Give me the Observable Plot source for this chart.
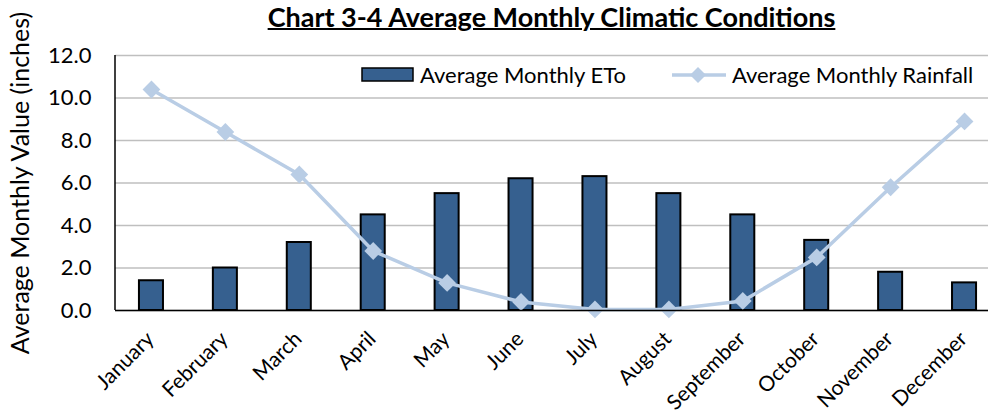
<!DOCTYPE html>
<html><head><meta charset="utf-8">
<script src="https://cdn.jsdelivr.net/npm/d3@7"></script>
<script src="https://cdn.jsdelivr.net/npm/@observablehq/plot@0.6"></script>
<style>
body{margin:0;background:#fff;}
#wrap{position:relative;width:988px;height:413px;overflow:hidden;font-family:Lato,"Open Sans",sans-serif;color:#000;}
#title{position:absolute;left:115px;width:873px;top:0px;line-height:33px;text-align:center;font-weight:bold;font-size:27px;text-decoration:underline;text-decoration-thickness:1.5px;white-space:nowrap;}
#ylabel{position:absolute;left:18.5px;top:183px;transform:translate(-50%,-50%) rotate(-90deg);white-space:nowrap;font-size:25px;line-height:25px;}
#legend{position:absolute;top:63px;left:361px;display:flex;align-items:center;font-size:22px;line-height:24px;white-space:nowrap;}
#legend svg{display:block;}
#chart g[aria-label="y-axis tick label"] text{font-size:22px;}
#chart g[aria-label="x-axis tick label"] text{font-size:21px;}
</style>
</head><body>
<div id="wrap">
<div id="chart"></div>
<div id="title">Chart 3-4 Average Monthly Climatic Conditions</div>
<div id="ylabel">Average Monthly Value (inches)</div>
<div id="legend"></div>
</div>
<script>
const months = ["January","February","March","April","May","June","July","August","September","October","November","December"];
const eto = [1.4, 2.0, 3.2, 4.5, 5.5, 6.2, 6.3, 5.5, 4.5, 3.3, 1.8, 1.3];
const rainfall = [10.4, 8.4, 6.4, 2.8, 1.3, 0.4, 0.05, 0.05, 0.45, 2.5, 5.8, 8.9];
const yTicks = [0, 2, 4, 6, 8, 10, 12];
const seriesNames = ["Average Monthly ETo", "Average Monthly Rainfall"];

const barColor = "#36608f";
const lineColor = "#b9cde5";

const data = months.map((m, i) => ({month: m, eto: eto[i], rain: rainfall[i]}));

const chart = Plot.plot({
  width: 988,
  height: 413,
  marginLeft: 115,
  marginRight: 0,
  marginTop: 55,
  marginBottom: 103,
  style: {fontFamily: 'Lato,"Open Sans",sans-serif', fontSize: "21px", color: "#000", background: "#fff", overflow: "visible"},
  x: {domain: months, range: [114, 1001], paddingInner: 0.675, paddingOuter: 0.3375, round: false, label: null},
  y: {domain: [0, 12], label: null},
  marks: [
    Plot.ruleY(yTicks, {stroke: "#bfbfbf", strokeWidth: 1.5}),
    Plot.barY(data, {x: "month", y: "eto", fill: barColor, stroke: "#000", strokeWidth: 2}),
    Plot.line(data, {x: "month", y: "rain", stroke: lineColor, strokeWidth: 3.5}),
    Plot.dot(data, {x: "month", y: "rain", symbol: "diamond2", r: 8, fill: lineColor, stroke: "none"}),
    Plot.ruleY([0], {stroke: "#000", strokeWidth: 1.5}),
    Plot.axisY({ticks: yTicks, tickSize: 0, tickPadding: 24, tickFormat: d => d.toFixed(1)}),
    Plot.axisX({tickSize: 0, tickRotate: -45, tickPadding: 4, dy: 21, dx: -1})
  ]
});
document.getElementById("chart").appendChild(chart);

// left axis line
d3.select(chart).append("line").attr("x1", 115).attr("x2", 115).attr("y1", 55).attr("y2", 310)
  .attr("stroke", "#000").attr("stroke-width", 1.5);

// legend
const lg = document.getElementById("legend");
lg.innerHTML =
  `<svg width="54" height="16"><rect x="1" y="1" width="51" height="13" fill="${barColor}" stroke="#000" stroke-width="1.5"/></svg>` +
  `<span style="margin-left:5px">${seriesNames[0]}</span>` +
  `<svg width="54" height="20" style="margin-left:46px"><line x1="0" y1="10" x2="54" y2="10" stroke="${lineColor}" stroke-width="3.5"/><path d="M26,2 L34,10 L26,18 L18,10Z" fill="${lineColor}"/></svg>` +
  `<span style="margin-left:6px">${seriesNames[1]}</span>`;
</script>
</body></html>
